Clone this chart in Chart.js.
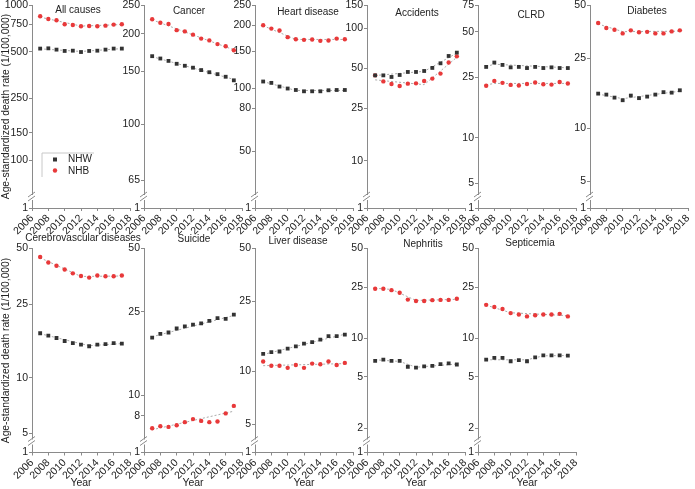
<!DOCTYPE html>
<html>
<head>
<meta charset="utf-8">
<script src="https://cdn.jsdelivr.net/npm/chart.js@4.4.1/dist/chart.umd.min.js"></script>
<style>
  html, body { margin: 0; padding: 0; background: #fff; width: 695px; height: 489px; overflow: hidden; position: relative; }
  canvas { position: absolute; }
</style>
</head>
<body>
<script>
// ---- data ----
const YEARS = [2007, 2008, 2009, 2010, 2011, 2012, 2013, 2014, 2015, 2016, 2017];

const allCausesNHW = [524, 526, 516, 506, 508, 498, 506, 508, 516, 524, 524];
const allCausesNHB = [846, 812, 797, 751, 743, 729, 733, 729, 736, 748, 751];
const allCausesFitNHW = [[2007, 522], [2012, 502], [2017, 524]];
const allCausesFitNHB = [[2007, 835], [2012, 732], [2017, 748]];
const allCausesTicks = [1000, 750, 500, 250, 150, 100];

const cancerNHW = [168.6, 165.6, 162.6, 159, 156.6, 154.3, 151.5, 149, 146.8, 143.9, 140];
const cancerNHB = [224, 218, 216, 206, 204, 199, 193, 190.4, 185, 182, 176.5];
const cancerFitNHW = [[2007, 168], [2017, 141]];
const cancerFitNHB = [[2007, 223], [2017, 177]];
const cancerTicks = [250, 200, 150, 100, 65];

const heartNHW = [107.6, 106, 101.8, 99.6, 98, 96.6, 96.6, 96.6, 97.7, 98, 98];
const heartNHB = [200, 192.8, 188.7, 175.4, 171.5, 170.3, 171, 168.4, 169, 172.6, 171.5];
const heartFitNHW = [[2007, 107.5], [2011, 97.5], [2017, 97.5]];
const heartFitNHB = [[2007, 199], [2011, 171], [2017, 171]];
const heartTicks = [250, 200, 150, 100, 80, 50];

const accidentsNHW = [44.1, 44.1, 42.9, 44.4, 46.8, 46.8, 47.6, 50.2, 54.4, 61.8, 65.5];
const accidentsNHB = [44.1, 39.7, 38, 36.7, 38.2, 38.4, 40, 41.7, 45.5, 55.1, 61.4];
const accidentsFitNHW = [[2007, 44], [2013, 47.3], [2017, 65]];
const accidentsFitNHB = [[2007, 40.8], [2013, 37.5], [2017, 60.4]];
const accidentsTicks = [150, 100, 50, 25, 10];

const clrdNHW = [29.3, 31.3, 30.2, 29.1, 29.3, 28.8, 29.3, 28.8, 29.1, 28.8, 28.8];
const clrdNHB = [22, 23.7, 23, 22.3, 22.1, 22.6, 23.1, 22.5, 22.4, 23.3, 22.8];
const clrdFitNHW = [[2007, 29.5], [2008, 30.5], [2017, 28.9]];
const clrdFitNHB = [[2007, 22.3], [2008, 22.8], [2017, 22.8]];
const clrdTicks = [75, 50, 25, 10, 5];

const diabetesNHW = [15.7, 15.5, 14.9, 14.4, 15.3, 14.8, 15.1, 15.5, 16, 15.9, 16.4];
const diabetesNHB = [39.5, 37, 36.2, 34.5, 35.9, 35, 35.2, 34.5, 34.5, 35.4, 35.9];
const diabetesFitNHW = [[2007, 15.6], [2010, 14.7], [2017, 16.2]];
const diabetesFitNHB = [[2007, 39], [2010, 35.3], [2017, 35.5]];
const diabetesTicks = [50, 25, 10, 5];

const cerebroNHW = [17.4, 16.9, 16.4, 15.8, 15.4, 15.1, 14.8, 15.1, 15.2, 15.4, 15.3];
const cerebroNHB = [45, 42, 40.3, 38.5, 36.7, 35.5, 34.8, 35.7, 35.4, 35.4, 35.7];
const cerebroFitNHW = [[2007, 17.3], [2013, 14.9], [2017, 15.3]];
const cerebroFitNHB = [[2007, 44.5], [2012, 35.3], [2017, 35.5]];
const cerebroTicks = [50, 25, 10, 5];

const suicideNHW = [18.8, 19.6, 19.9, 20.8, 21.3, 21.7, 22, 22.6, 23.3, 23.1, 24.2];
const suicideNHB = [6.97, 7.13, 7.07, 7.2, 7.45, 7.7, 7.55, 7.45, 7.5, 8.2, 8.9];
const suicideFitNHW = [[2007, 19], [2017, 24]];
const suicideFitNHB = [[2007, 6.85], [2017, 8.4]];
const suicideTicks = [50, 25, 10, 8];

const liverNHW = [12.6, 12.9, 13, 13.5, 13.9, 14.4, 14.7, 15.2, 15.9, 15.9, 16.2];
const liverNHB = [11.4, 10.8, 10.8, 10.5, 10.9, 10.5, 11.1, 11, 11.4, 10.9, 11.2];
const liverFitNHW = [[2007, 12.5], [2017, 16.3]];
const liverFitNHB = [[2007, 10.8], [2017, 11.1]];
const liverTicks = [50, 25, 10, 5];

const nephritisNHW = [6.67, 6.83, 6.67, 6.67, 6.0, 5.9, 6.05, 6.1, 6.3, 6.38, 6.25];
const nephritisNHB = [24.3, 24.3, 23.7, 22.6, 20, 19.5, 19.5, 19.8, 19.9, 19.9, 20.3];
const nephritisFitNHW = [[2007, 6.8], [2010, 6.6], [2012, 5.95], [2017, 6.3]];
const nephritisFitNHB = [[2007, 24.5], [2009, 24], [2012, 19.7], [2017, 20.1]];
const nephritisTicks = [50, 25, 10, 5, 2];

const septicemiaNHW = [6.83, 7.03, 7.03, 6.62, 6.75, 6.62, 7.1, 7.37, 7.37, 7.37, 7.33];
const septicemiaNHB = [18.2, 17.5, 16.9, 15.7, 15.3, 14.8, 15.1, 15.3, 15.3, 15.5, 14.8];
const septicemiaFitNHW = [[2007, 6.8], [2012, 6.8], [2014, 7.3], [2017, 7.35]];
const septicemiaFitNHB = [[2007, 18.1], [2010, 15.8], [2017, 15]];
const septicemiaTicks = [50, 25, 10, 5, 2];

// lower end of each log axis (shown as "1" below the break)
const AXIS_MIN = [49.3, 52.4, 26.7, 4.39, 3.44, 3.52, 3.94, 5.34, 3.47, 1.29, 1.29];

const PANELS = [
  { title: 'All causes', nhw: allCausesNHW, nhb: allCausesNHB, fitW: allCausesFitNHW, fitB: allCausesFitNHB, ticks: allCausesTicks },
  { title: 'Cancer', nhw: cancerNHW, nhb: cancerNHB, fitW: cancerFitNHW, fitB: cancerFitNHB, ticks: cancerTicks },
  { title: 'Heart disease', nhw: heartNHW, nhb: heartNHB, fitW: heartFitNHW, fitB: heartFitNHB, ticks: heartTicks },
  { title: 'Accidents', nhw: accidentsNHW, nhb: accidentsNHB, fitW: accidentsFitNHW, fitB: accidentsFitNHB, ticks: accidentsTicks },
  { title: 'CLRD', nhw: clrdNHW, nhb: clrdNHB, fitW: clrdFitNHW, fitB: clrdFitNHB, ticks: clrdTicks },
  { title: 'Diabetes', nhw: diabetesNHW, nhb: diabetesNHB, fitW: diabetesFitNHW, fitB: diabetesFitNHB, ticks: diabetesTicks },
  { title: 'Cerebrovascular diseases', nhw: cerebroNHW, nhb: cerebroNHB, fitW: cerebroFitNHW, fitB: cerebroFitNHB, ticks: cerebroTicks },
  { title: 'Suicide', nhw: suicideNHW, nhb: suicideNHB, fitW: suicideFitNHW, fitB: suicideFitNHB, ticks: suicideTicks },
  { title: 'Liver disease', nhw: liverNHW, nhb: liverNHB, fitW: liverFitNHW, fitB: liverFitNHB, ticks: liverTicks },
  { title: 'Nephritis', nhw: nephritisNHW, nhb: nephritisNHB, fitW: nephritisFitNHW, fitB: nephritisFitNHB, ticks: nephritisTicks },
  { title: 'Septicemia', nhw: septicemiaNHW, nhb: septicemiaNHB, fitW: septicemiaFitNHW, fitB: septicemiaFitNHB, ticks: septicemiaTicks },
];

// ---- layout / style ----
const FONT = '"Liberation Sans", Arial, sans-serif';
const TEXT = '#222';
const AXIS = '#8a8a8a';
const BLACK = '#333333';
const RED = '#e8393a';
const FIT = '#a0a0a0';
const AXIS_X = [32, 144, 255, 367, 478, 590];
const PLOT_W = 98;
const TITLE_DX = [46, 45, 53, 50, 53, 57, 51, 50, 43, 56, 52];
const TITLE_Y = [13, 14, 15, 16, 18, 14, 241, 242, 244, 247, 246];

// titles, axis break marks and legend
const decor = {
  id: 'decor',
  afterDraw(chart, args, o) {
    const { ctx, chartArea: { left, bottom } } = chart;
    ctx.save();
    // axis break
    const y = bottom - 10;
    ctx.fillStyle = '#fff';
    ctx.fillRect(left - 2, y - 3, 4, 5);
    ctx.strokeStyle = AXIS;
    ctx.lineWidth = 1;
    ctx.beginPath();
    ctx.moveTo(left - 4, y - 1); ctx.lineTo(left + 3, y - 6);
    ctx.moveTo(left - 4, y + 3); ctx.lineTo(left + 3, y - 2);
    ctx.stroke();
    // panel title
    ctx.fillStyle = TEXT;
    ctx.font = '10px ' + FONT;
    ctx.textAlign = 'center';
    ctx.textBaseline = 'alphabetic';
    ctx.fillText(o.title, o.tx, o.ty);
    // legend
    if (o.legend) {
      const lx = left + 10, ly = 153 - o.top;
      ctx.strokeStyle = '#c8c8c8';
      ctx.beginPath();
      ctx.moveTo(lx, ly + 24); ctx.lineTo(lx, ly); ctx.lineTo(lx + 52, ly);
      ctx.stroke();
      ctx.fillStyle = BLACK;
      ctx.fillRect(lx + 11, ly + 4.5, 4, 4);
      ctx.fillStyle = RED;
      ctx.beginPath(); ctx.arc(lx + 13, ly + 17.5, 2.2, 0, Math.PI * 2); ctx.fill();
      ctx.fillStyle = TEXT;
      ctx.textAlign = 'left';
      ctx.textBaseline = 'middle';
      ctx.fillText('NHW', lx + 26, ly + 6.5);
      ctx.fillText('NHB', lx + 26, ly + 18);
    }
    ctx.restore();
  }
};

function pts(arr) { return YEARS.map((x, i) => ({ x, y: arr[i] })); }
function fit(arr) { return arr.map(([x, y]) => ({ x, y })); }

PANELS.forEach((p, i) => {
  const row = i < 6 ? 0 : 1;
  const col = row ? i - 6 : i;
  const yW = col === 0 ? 32 : 30;
  const left = AXIS_X[col] - yW;
  const top = row ? 225 : -5;
  const h = row ? 264 : 245;
  const padTop = row ? 23.5 : 10;
  const xH = row ? 36.5 : 32;
  const w = yW + PLOT_W + 12;

  const cv = document.createElement('canvas');
  cv.width = w; cv.height = h;
  cv.style.left = left + 'px'; cv.style.top = top + 'px';
  cv.style.width = w + 'px'; cv.style.height = h + 'px';
  document.body.appendChild(cv);

  const yMin = AXIS_MIN[i];
  new Chart(cv.getContext('2d'), {
    type: 'scatter',
    data: {
      datasets: [
        { label: 'NHW', data: pts(p.nhw), pointStyle: 'rect', pointRadius: 2.7, backgroundColor: BLACK, borderWidth: 0 },
        { label: 'NHB', data: pts(p.nhb), pointStyle: 'circle', pointRadius: 2.2, backgroundColor: RED, borderWidth: 0 },
        { type: 'line', data: fit(p.fitW), borderColor: FIT, borderWidth: 0.9, borderDash: [2, 2], pointRadius: 0, fill: false },
        { type: 'line', data: fit(p.fitB), borderColor: FIT, borderWidth: 0.9, borderDash: [2, 2], pointRadius: 0, fill: false },
      ]
    },
    options: {
      responsive: false, animation: false, devicePixelRatio: 1,
      layout: { padding: { top: padTop, right: 12, bottom: 0, left: 0 } },
      scales: {
        x: {
          type: 'linear', min: 2006, max: 2018,
          grid: { drawOnChartArea: false, tickLength: 3, color: AXIS },
          border: { color: AXIS },
          ticks: { stepSize: 2, autoSkip: false, minRotation: 45, maxRotation: 45, padding: 1, color: TEXT, font: { family: FONT, size: 10.5 }, callback: v => String(v) },
          title: { display: row === 1, text: 'Year', color: TEXT, font: { family: FONT, size: 10.5 }, padding: { top: 0, bottom: 0 } },
          afterFit: s => { s.height = xH; }
        },
        y: {
          type: 'logarithmic', min: yMin, max: p.ticks[0],
          grid: { drawOnChartArea: false, tickLength: 3, color: AXIS },
          border: { color: AXIS },
          ticks: { padding: 1, color: TEXT, font: { family: FONT, size: 10.5 }, callback: v => (v === yMin ? '1' : String(v)) },
          afterBuildTicks: s => { s.ticks = [yMin].concat(p.ticks.slice().reverse()).map(v => ({ value: v })); },
          title: { display: col === 0, text: 'Age-standardized death rate (1/100,000)', color: TEXT, font: { family: FONT, size: 10.3 }, padding: { top: 0, bottom: 0 } },
          afterFit: s => { s.width = yW; }
        }
      },
      plugins: {
        legend: { display: false },
        tooltip: { enabled: false },
        decor: { title: p.title, tx: AXIS_X[col] + TITLE_DX[i] - left, ty: TITLE_Y[i] - top, legend: i === 0, top }
      }
    },
    plugins: [decor]
  });
});
</script>
</body>
</html>
